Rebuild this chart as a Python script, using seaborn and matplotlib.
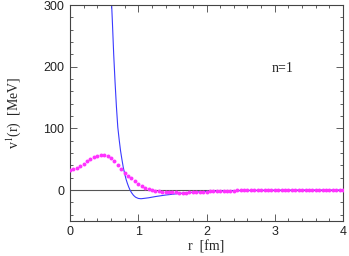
import numpy as np
import pandas as pd
import matplotlib
matplotlib.use('Agg')
import matplotlib.pyplot as plt
import seaborn as sns
from matplotlib.ticker import MultipleLocator

sns.set_style('ticks')
plt.rcParams['font.family'] = ['Liberation Serif', 'DejaVu Serif']
plt.rcParams['mathtext.fontset'] = 'stix'

# blue curve (solid line)
r_line = [0.58, 0.60, 0.62, 0.64, 0.66, 0.68, 0.70, 0.72, 0.74, 0.76, 0.78, 0.80,
          0.82, 0.84, 0.86, 0.88, 0.90, 0.93, 0.96, 1.00, 1.04, 1.08, 1.15, 1.25,
          1.40, 1.60, 1.80, 2.00, 2.30, 2.60, 3.00, 3.50, 4.00]
v_line = [380, 325, 275, 220, 175, 135, 102, 82, 64, 50, 37, 27,
          18, 11, 5, 0, -4, -8.5, -11.5, -13.5, -14, -13.5, -12.5, -10.5,
          -8, -5.5, -3.5, -2.2, -1.2, -0.6, -0.2, 0, 0]

# magenta dotted curve, r = 0, 0.05, ..., 4.0
r_dots = [round(0.05 * i, 2) for i in range(81)]
v_dots = [33, 34, 36, 39, 43, 47, 51, 54, 56, 57, 57, 55, 52, 47, 41, 35, 28, 23, 19, 14,
          10, 6, 3.5, 1.5, 0, -1, -1.8, -2.4, -2.9, -3.3, -3.6, -3.8, -3.9, -4, -3.9, -3.8,
          -3.6, -3.3, -3, -2.7, -2.4, -2.1, -1.8, -1.6, -1.4, -1.2, -1, -0.8, -0.7, -0.6,
          -0.5, -0.4, -0.3, -0.25, -0.2, -0.15, -0.1, -0.1, -0.05, 0, 0, 0, 0, 0, 0, 0,
          0, 0, 0, 0, 0, 0, 0, 0, 0, 0, 0, 0, 0, 0, 0]

df_line = pd.DataFrame({'r': r_line, 'v': v_line})
df_dots = pd.DataFrame({'r': r_dots, 'v': v_dots})

fig = plt.figure(figsize=(3.49, 2.56), dpi=100)
ax = fig.add_axes([0.2006, 0.137, 0.7824, 0.843])

ax.axhline(0, color='#555555', linewidth=0.8, zorder=1)
sns.lineplot(data=df_line, x='r', y='v', ax=ax, color='#3a3aff', linewidth=0.8, zorder=2)
sns.scatterplot(data=df_dots, x='r', y='v', ax=ax, color='#ff33ff', s=8, marker='o',
                linewidth=0, zorder=3)

ax.set_xlim(0, 4)
ax.set_ylim(-50, 300)
ax.xaxis.set_major_locator(MultipleLocator(1))
ax.xaxis.set_minor_locator(MultipleLocator(0.2))
ax.yaxis.set_major_locator(MultipleLocator(100))
ax.yaxis.set_minor_locator(MultipleLocator(20))
ax.tick_params(which='both', direction='in', top=True, right=True, labelsize=9,
               width=0.6, color='#444444', labelcolor='#222222')
ax.tick_params(which='major', length=5, pad=4)
ax.tick_params(which='minor', length=2.5)
for lab in ax.get_xticklabels() + ax.get_yticklabels():
    lab.set_family(['Liberation Sans', 'DejaVu Sans'])
for s in ax.spines.values():
    s.set_linewidth(0.8)
    s.set_color('#444444')
    s.set_visible(True)

ax.set_xlabel('r  [fm]', fontsize=10, labelpad=1)
ax.set_ylabel('v$^1$(r)  [MeV]', fontsize=10, labelpad=15)
ax.text(2.95, 198, 'n=1', fontsize=10, ha='left', va='center')

fig.savefig('out.png', dpi=100, facecolor='white')
